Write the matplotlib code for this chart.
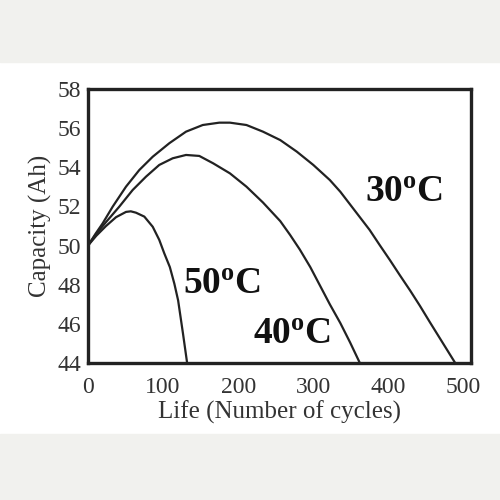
import matplotlib
matplotlib.use("Agg")
import matplotlib.pyplot as plt
from matplotlib.patches import Rectangle

# capacity (Ah) vs cycles
cyc_30 = [0, 10, 19.6, 32.9, 50.6, 68.3, 86.2, 108.3, 130.5, 152.8, 174.8, 189, 211, 233, 256, 278,
          300, 322, 336, 349, 362, 375, 388, 402, 415, 429, 442, 455, 472, 489]
cap_30 = [50, 50.6, 51.14, 51.99, 53.01, 53.86, 54.54, 55.23, 55.82, 56.16, 56.28, 56.28, 56.16, 55.82,
          55.39, 54.8, 54.12, 53.35, 52.75, 52.1, 51.45, 50.8, 50.05, 49.26, 48.5, 47.7, 46.92, 46.1, 45.05, 44]

cyc_40 = [0, 11, 24, 41.7, 59.5, 77.2, 94.9, 112.8, 130.5, 148.2, 166.8, 189, 211, 233, 256, 269,
          282, 296, 309, 322, 336, 349, 362]
cap_40 = [50, 50.6, 51.2, 51.99, 52.84, 53.52, 54.12, 54.46, 54.63, 54.58, 54.2, 53.69, 53.01, 52.2,
          51.25, 50.55, 49.8, 48.9, 47.95, 47.0, 46.04, 45.05, 44]

cyc_50 = [0, 11, 24, 37.3, 50.6, 57, 63.9, 75, 86.2, 94.9, 101.6, 109, 115, 120, 126.5, 132]
cap_50 = [50, 50.5, 51.0, 51.45, 51.72, 51.75, 51.68, 51.48, 50.96, 50.29, 49.6, 48.9, 48.05, 47.2, 45.5, 44]

labels = [r"30$^{\mathrm{o}}$C", r"40$^{\mathrm{o}}$C", r"50$^{\mathrm{o}}$C"]
label_pos = [(421, 52.69), (271.6, 45.48), (178.4, 47.99)]

xticks = [0, 100, 200, 300, 400, 500]
yticks = [44, 46, 48, 50, 52, 54, 56, 58]

plt.rcParams["font.family"] = ["Liberation Serif", "DejaVu Serif"]
plt.rcParams["mathtext.fontset"] = "custom"
plt.rcParams["mathtext.rm"] = "Liberation Serif:bold"
plt.rcParams["mathtext.it"] = "Liberation Serif:bold"

fig = plt.figure(figsize=(5, 5), dpi=100)
fig.patch.set_facecolor("white")
fig.patches.append(Rectangle((0, 0.876), 1, 0.124, transform=fig.transFigure, color="#f1f1ee", zorder=0))
fig.patches.append(Rectangle((0, 0), 1, 0.132, transform=fig.transFigure, color="#f1f1ee", zorder=0))

ax = fig.add_axes([0.176, 0.274, 0.766, 0.548])
col = "#222222"
ax.plot(cyc_30, cap_30, color=col, linewidth=1.6, solid_joinstyle="round")
ax.plot(cyc_40, cap_40, color=col, linewidth=1.6, solid_joinstyle="round")
ax.plot(cyc_50, cap_50, color=col, linewidth=1.6, solid_joinstyle="round")

for lab, (x, y) in zip(labels, label_pos):
    ax.text(x, y, lab, fontsize=27, fontweight="bold", color="#111111", ha="center", va="center")

ax.set_xlim(0, 510)
ax.set_ylim(44, 58)
ax.set_xticks(xticks)
ax.set_yticks(yticks)
ax.tick_params(length=0, labelsize=17, colors="#333333")
ax.tick_params(axis="x", pad=10)
ax.tick_params(axis="y", pad=5)
for s in ax.spines.values():
    s.set_linewidth(2.4)
    s.set_color("#222222")

ax.set_xlabel("Life (Number of cycles)", fontsize=18, color="#333333", labelpad=2)
ax.set_ylabel("Capacity (Ah)", fontsize=18, color="#333333", labelpad=4)

fig.savefig("out.png", dpi=100)
